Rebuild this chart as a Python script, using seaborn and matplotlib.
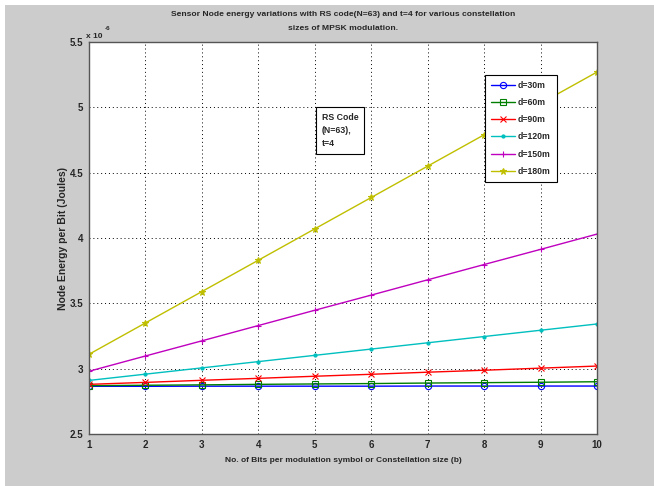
import matplotlib
matplotlib.use("Agg")
import matplotlib.pyplot as plt
import seaborn as sns
import pandas as pd
from matplotlib.patches import Rectangle

# bits per symbol (constellation size b)
b = [1, 2, 3, 4, 5, 6, 7, 8, 9, 10]

# node energy per bit, in units of 1e-6 J
e_30 = [2.865, 2.865, 2.866, 2.866, 2.866, 2.866, 2.867, 2.867, 2.867, 2.867]
e_60 = [2.870, 2.873, 2.876, 2.880, 2.883, 2.886, 2.890, 2.893, 2.896, 2.900]
e_90 = [2.880, 2.895, 2.911, 2.926, 2.942, 2.957, 2.973, 2.988, 3.004, 3.020]
e_120 = [2.910, 2.958, 3.006, 3.054, 3.102, 3.150, 3.198, 3.246, 3.294, 3.342]
e_150 = [2.980, 3.097, 3.213, 3.330, 3.447, 3.563, 3.680, 3.797, 3.913, 4.030]
e_180 = [3.110, 3.350, 3.590, 3.830, 4.070, 4.310, 4.550, 4.790, 5.030, 5.270]

labels = ["d=30m", "d=60m", "d=90m", "d=120m", "d=150m", "d=180m"]
series = [e_30, e_60, e_90, e_120, e_150, e_180]
colors = ["#0000ff", "#007f00", "#ff0000", "#00bfbf", "#bf00bf", "#bfbf00"]
markers = ["o", "s", "x", ".", "+", "*"]

sns.set_style("white")
plt.rcParams["font.family"] = ["Liberation Sans", "DejaVu Sans"]
plt.rcParams["font.weight"] = "bold"

fig = plt.figure(figsize=(6.54, 4.86), dpi=100)
fig.patch.set_facecolor("white")
fig.patches.append(Rectangle((5 / 654, 0), 1, 1 - 5 / 486, transform=fig.transFigure,
                             facecolor="#cccccc", edgecolor="none", zorder=-10))
ax = fig.add_axes([89 / 654, 52 / 486, 508 / 654, 392 / 486])

for lab, vals, c, m in zip(labels, series, colors, markers):
    df = pd.DataFrame({"b": b, "E": vals})
    sns.lineplot(data=df, x="b", y="E", ax=ax, color=c, marker=m, markersize=4.5,
                 markeredgecolor=c, markerfacecolor="none" if m in "os" else c,
                 markeredgewidth=0.8, linewidth=1.0, label=lab)

ax.set_xlim(1, 10)
ax.set_ylim(2.5, 5.5)
ax.set_xticks(b)
ax.set_yticks([2.5, 3, 3.5, 4, 4.5, 5, 5.5])
ax.set_yticklabels(["2.5", "3", "3.5", "4", "4.5", "5", "5.5"])
ax.tick_params(axis="both", labelsize=7, length=0, pad=4)
for t in ax.get_xticklabels() + ax.get_yticklabels():
    t.set_fontweight("bold")
ax.grid(True, color="black", linestyle=(0, (1, 3)), linewidth=0.7)
for s in ax.spines.values():
    s.set_color("#555555")
    s.set_linewidth(1.0)

ax.set_xlabel("No. of Bits per modulation symbol or Constellation size (b)",
              fontsize=6, fontweight="bold", labelpad=5)
ax.set_ylabel("Node Energy per Bit (Joules)", fontsize=7.5, fontweight="bold", labelpad=1)
ax.set_title("Sensor Node energy variations with RS code(N=63) and t=4 for various constellation\n"
             "sizes of MPSK modulation.", fontsize=6.1, fontweight="bold", pad=9,
             linespacing=2.3)
ax.text(-0.006, 1.006, "x 10", transform=ax.transAxes, fontsize=6,
        fontweight="bold", va="bottom", ha="left")
ax.text(0.031, 1.028, "-6", transform=ax.transAxes, fontsize=4.5,
        fontweight="bold", va="bottom", ha="left")

ax.text(0.458, 0.818, "RS Code\n(N=63),\nt=4", transform=ax.transAxes, fontsize=6.3,
        fontweight="bold", va="top", ha="left", linespacing=1.55,
        bbox=dict(boxstyle="square,pad=0.7", facecolor="white", edgecolor="black", linewidth=0.8))

leg = ax.legend(loc="upper right", bbox_to_anchor=(0.921, 0.916), fontsize=6.2,
                frameon=True, fancybox=False, edgecolor="black", framealpha=1,
                handlelength=2.8, labelspacing=0.95, borderpad=0.7, borderaxespad=0,
                handletextpad=0.4)
for t in leg.get_texts():
    t.set_fontweight("bold")
leg.get_frame().set_linewidth(0.8)

fig.savefig("out.png", dpi=100, facecolor=fig.get_facecolor())
